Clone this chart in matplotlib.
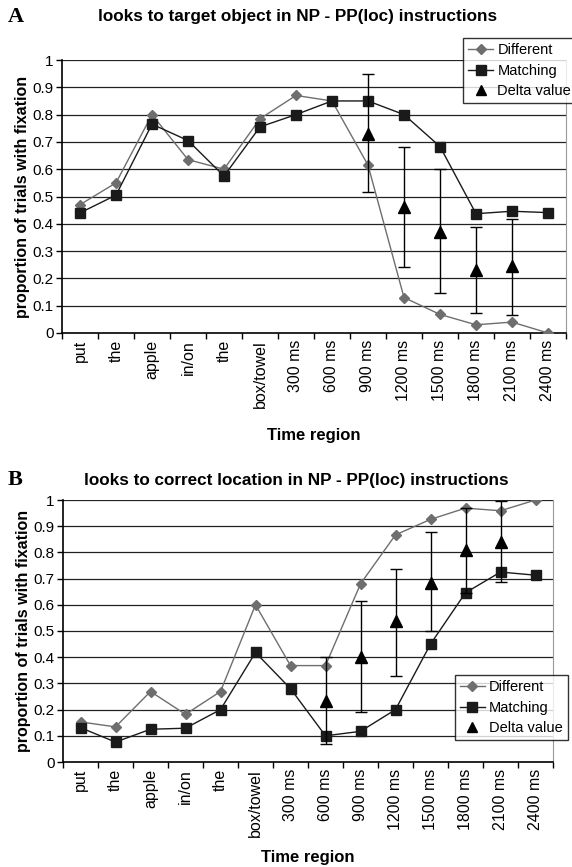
import matplotlib.pyplot as plt
from matplotlib.lines import Line2D

plt.rcParams['font.family'] = ['Liberation Sans', 'DejaVu Sans']

# Categories (time regions)
regions = ["put", "the", "apple", "in/on", "the", "box/towel", "300 ms", "600 ms",
           "900 ms", "1200 ms", "1500 ms", "1800 ms", "2100 ms", "2400 ms"]

# Panel A: looks to target object
a_different = [0.47, 0.55, 0.80, 0.635, 0.60, 0.785, 0.87, 0.85, 0.615, 0.13, 0.068, 0.03, 0.04, 0.0]
a_matching = [0.44, 0.505, 0.765, 0.705, 0.575, 0.755, 0.80, 0.85, 0.85, 0.80, 0.683, 0.437, 0.446, 0.441]
a_delta_idx = [8, 9, 10, 11, 12]
a_delta = [0.73, 0.463, 0.371, 0.231, 0.245]
a_delta_lo = [0.516, 0.24, 0.147, 0.074, 0.067]
a_delta_hi = [0.947, 0.683, 0.60, 0.387, 0.419]

# Panel B: looks to correct location
b_different = [0.153, 0.134, 0.269, 0.182, 0.269, 0.60, 0.368, 0.368, 0.68, 0.867, 0.926, 0.969, 0.959, 1.0]
b_matching = [0.131, 0.076, 0.125, 0.129, 0.20, 0.418, 0.28, 0.10, 0.117, 0.20, 0.45, 0.646, 0.725, 0.713]
b_delta_idx = [7, 8, 9, 10, 11, 12]
b_delta = [0.232, 0.40, 0.538, 0.684, 0.809, 0.841]
b_delta_lo = [0.068, 0.19, 0.33, 0.50, 0.646, 0.687]
b_delta_hi = [0.40, 0.613, 0.738, 0.876, 0.969, 0.995]

W, H = 572, 867
fig = plt.figure(figsize=(W / 100, H / 100), dpi=100)


def px_axes(left, right, top, bottom):
    return fig.add_axes([left / W, 1 - bottom / H, (right - left) / W, (bottom - top) / H])


def draw_panel(ax, diff, match, d_idx, d_val, d_lo, d_hi, xlabel_y):
    x = list(range(len(regions)))
    ax.set_xlim(-0.5, len(regions) - 0.5)
    ax.set_ylim(0, 1)
    for v in [i / 10 for i in range(1, 11)]:
        ax.axhline(v, color="#222222", lw=0.9, zorder=1)
    ax.plot(x, diff, color="#6e6e6e", lw=1.0, marker="D", ms=5, zorder=3)
    ax.plot(x, match, color="#1a1a1a", lw=1.0, marker="s", ms=7.5, zorder=4)
    lo = [v - l for v, l in zip(d_val, d_lo)]
    hi = [h - v for v, h in zip(d_val, d_hi)]
    ax.errorbar(d_idx, d_val, yerr=[lo, hi], fmt="none", ecolor="black",
                elinewidth=1.0, capsize=4, capthick=1.0, zorder=5)
    ax.plot(d_idx, d_val, "^", color="black", ms=8, ls="none", zorder=6)

    ax.set_xticks([i - 0.5 for i in range(len(regions) + 1)])
    ax.set_xticklabels([])
    ax.set_xticks(x, minor=True)
    ax.set_xticklabels(regions, minor=True, rotation=90, fontsize=11.5)
    ax.tick_params(axis="x", which="major", direction="out", length=4, width=1)
    ax.tick_params(axis="x", which="minor", length=0, pad=5)
    ax.set_yticks([i / 10 for i in range(11)])
    ax.set_yticklabels(["0"] + ["%.1f" % (i / 10) for i in range(1, 10)] + ["1"], fontsize=11)
    ax.tick_params(axis="y", direction="out", length=4, width=1, pad=2)
    ax.spines["top"].set_visible(False)
    ax.spines["right"].set_color("#999999")
    ax.spines["left"].set_linewidth(1.2)
    ax.spines["bottom"].set_linewidth(1.2)
    ax.set_ylabel("proportion of trials with fixation", fontsize=11.5, fontweight="bold")
    ax.yaxis.set_label_coords(-32 / ax.bbox.width, 0.5)
    ax.set_xlabel("Time region", fontsize=12, fontweight="bold")
    ax.xaxis.set_label_coords(0.5, -xlabel_y / ax.bbox.height)


handles = [
    Line2D([], [], color="#6e6e6e", lw=1.0, marker="D", ms=5),
    Line2D([], [], color="#1a1a1a", lw=1.0, marker="s", ms=7.5),
    Line2D([], [], color="black", marker="^", ms=7, ls="none"),
]
labels = ["Different", "Matching", "Delta value"]
leg_kw = dict(fontsize=10.5, frameon=True, fancybox=False, edgecolor="black",
              handlelength=1.7, borderpad=0.35, labelspacing=0.45, handletextpad=0.3,
              borderaxespad=0)

axA = px_axes(62, 566, 60, 333)
draw_panel(axA, a_different, a_matching, a_delta_idx, a_delta, a_delta_lo, a_delta_hi, 95)
legA = fig.legend(handles, labels, loc="upper left", bbox_to_anchor=(463 / W, 1 - 38 / H), **leg_kw)
legA.get_frame().set_linewidth(1.0)
fig.text(8 / W, 1 - 17 / H, "A", family="Liberation Serif", fontweight="bold", fontsize=16, va="center")
fig.text(298 / W, 1 - 17 / H, "looks to target object in NP - PP(loc) instructions",
         fontsize=12.3, fontweight="bold", ha="center", va="center")

axB = px_axes(63, 553, 500, 762)
draw_panel(axB, b_different, b_matching, b_delta_idx, b_delta, b_delta_lo, b_delta_hi, 88)
legB = fig.legend(handles, labels, loc="upper right", bbox_to_anchor=(568 / W, 1 - 675 / H), **leg_kw)
legB.get_frame().set_linewidth(1.0)
fig.text(8 / W, 1 - 480 / H, "B", family="Liberation Serif", fontweight="bold", fontsize=16, va="center")
fig.text(296 / W, 1 - 480 / H, "looks to correct location in NP - PP(loc) instructions",
         fontsize=12.3, fontweight="bold", ha="center", va="center")

fig.savefig("out.png", dpi=100)
